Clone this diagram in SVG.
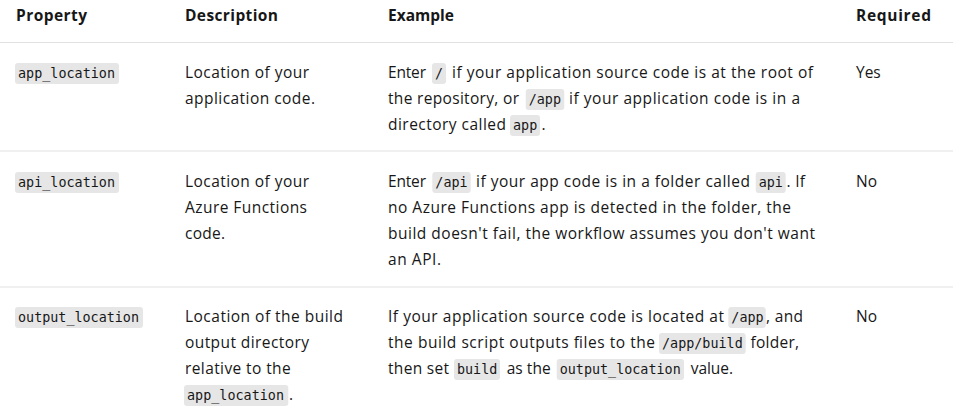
<svg xmlns="http://www.w3.org/2000/svg" width="953" height="414" viewBox="0 0 953 414">
<style>
.t{font-family:"Open Sans","Noto Sans","Liberation Sans",sans-serif;font-size:15.5px;fill:#171717}
.h{font-family:"Open Sans","Noto Sans","Liberation Sans",sans-serif;font-size:15.5px;font-weight:bold;fill:#171717}
.c{font-family:"DejaVu Sans Mono","Liberation Mono",monospace;font-size:13.4px;fill:#171717}
.cb{fill:#e6e6e6}
.sep{stroke:#e1e1e1;stroke-width:1.2}
</style>
<rect width="953" height="414" fill="#ffffff"/>
<g id="grid">
<line class="sep" x1="0" y1="42.5" x2="953" y2="42.5"/>
<line class="sep" x1="0" y1="151" x2="953" y2="151"/>
<line class="sep" x1="0" y1="287" x2="953" y2="287"/>
</g>
<g id="header">
<text class="h" x="16" y="21" textLength="71">Property</text>
<text class="h" x="185" y="21" textLength="93">Description</text>
<text class="h" x="388" y="21">Example</text>
<text class="h" x="856" y="21" textLength="75">Required</text>
</g>
<g id="row-app_location">
<rect class="cb" x="15" y="63" width="104" height="21" rx="3"/>
<text class="c" x="18" y="78" textLength="97">app_location</text>
<text class="t" x="185" y="78" textLength="124">Location of your</text>
<text class="t" x="185" y="104" textLength="130">application code.</text>
<text class="t" x="388" y="78" textLength="38">Enter</text>
<rect class="cb" x="432" y="63" width="14" height="21" rx="3"/>
<text class="c" x="435" y="78">/</text>
<text class="t" x="452" y="78" textLength="361">if your application source code is at the root of</text>
<text class="t" x="388" y="104" textLength="131">the repository, or</text>
<rect class="cb" x="525.7" y="89" width="38.6" height="21" rx="3"/>
<text class="c" x="528.7" y="104" textLength="32.3">/app</text>
<text class="t" x="569" y="104" textLength="231">if your application code is in a</text>
<text class="t" x="388" y="130" textLength="118">directory called</text>
<rect class="cb" x="510" y="115" width="30" height="21" rx="3"/>
<text class="c" x="513" y="130" textLength="24.2">app</text>
<text class="t" x="541.5" y="130">.</text>
<text class="t" x="856" y="78">Yes</text>
</g>
<g id="row-api_location">
<rect class="cb" x="15" y="172" width="104" height="21" rx="3"/>
<text class="c" x="18" y="187" textLength="97">api_location</text>
<text class="t" x="185" y="187" textLength="124">Location of your</text>
<text class="t" x="185" y="213" textLength="122">Azure Functions</text>
<text class="t" x="185" y="239" textLength="40">code.</text>
<text class="t" x="388" y="187" textLength="38">Enter</text>
<rect class="cb" x="432.3" y="172" width="38.4" height="21" rx="3"/>
<text class="c" x="435.3" y="187" textLength="32.3">/api</text>
<text class="t" x="476" y="187" textLength="274">if your app code is in a folder called</text>
<rect class="cb" x="755.7" y="172" width="30" height="21" rx="3"/>
<text class="c" x="758.7" y="187" textLength="24.2">api</text>
<text class="t" x="786.5" y="187" textLength="18.5">. If</text>
<text class="t" x="388" y="213" textLength="403">no Azure Functions app is detected in the folder, the</text>
<text class="t" x="388" y="239" textLength="427">build doesn't fail, the workflow assumes you don't want</text>
<text class="t" x="388" y="265" textLength="53">an API.</text>
<text class="t" x="856" y="187">No</text>
</g>
<g id="row-output_location">
<rect class="cb" x="15" y="307" width="128" height="21" rx="3"/>
<text class="c" x="18" y="322" textLength="121">output_location</text>
<text class="t" x="185" y="322" textLength="158">Location of the build</text>
<text class="t" x="185" y="348" textLength="124">output directory</text>
<text class="t" x="185" y="374" textLength="105.7">relative to the</text>
<rect class="cb" x="184" y="385" width="104.3" height="21" rx="3"/>
<text class="c" x="187" y="400" textLength="97">app_location</text>
<text class="t" x="289" y="400">.</text>
<text class="t" x="388" y="322" textLength="336">If your application source code is located at</text>
<rect class="cb" x="728.3" y="307" width="37.4" height="21" rx="3"/>
<text class="c" x="731.3" y="322" textLength="32.3">/app</text>
<text class="t" x="766" y="322" textLength="37">, and</text>
<text class="t" x="388" y="348" textLength="267">the build script outputs files to the</text>
<rect class="cb" x="659" y="333" width="86.7" height="21" rx="3"/>
<text class="c" x="662" y="348" textLength="80.7">/app/build</text>
<text class="t" x="750.5" y="348" textLength="48.5">folder,</text>
<text class="t" x="388" y="374" textLength="61">then set</text>
<rect class="cb" x="454" y="359" width="46" height="21" rx="3"/>
<text class="c" x="457" y="374" textLength="40.3">build</text>
<text class="t" x="506.7" y="374" textLength="44">as the</text>
<rect class="cb" x="556.7" y="359" width="127.3" height="21" rx="3"/>
<text class="c" x="559.7" y="374" textLength="121">output_location</text>
<text class="t" x="690.7" y="374" textLength="42.3">value.</text>
<text class="t" x="856" y="322">No</text>
</g>
</svg>
